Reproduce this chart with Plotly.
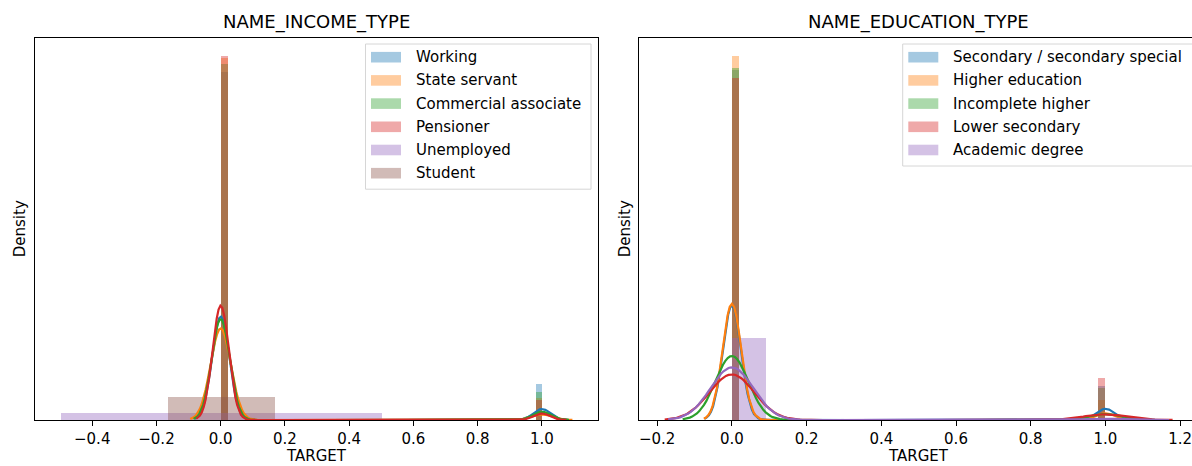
import numpy as np
import plotly.graph_objects as go

# ---------------- data (counts of TARGET = 0 / 1 per category) ----------------
income_types = ["Working", "State servant", "Commercial associate", "Pensioner", "Unemployed", "Student"]
income_n0 = [143550, 20454, 66257, 52380, 2, 12]
income_n1 = [15224, 1249, 5360, 2982, 0, 0]

education_types = ["Secondary / secondary special", "Higher education", "Incomplete higher",
                   "Lower secondary", "Academic degree"]
education_n0 = [198867, 55850, 9405, 3399, 127]
education_n1 = [19524, 3160, 872, 417, 3]

x_tick_step = 0.2

# ---------------- styling ----------------
W, H = 1192, 466
FONT = "DejaVu Sans"
COLORS = [(31, 119, 180), (255, 127, 14), (44, 160, 44), (214, 39, 40), (148, 103, 189), (140, 86, 75)]

AX_TOP, AX_BOT = 37.5, 420.0
LEFT_AX = (34.5, 598.0)
RIGHT_AX = (639.3, 1192.0)
RIGHT_TRUE_END = 1198.0


def rgba(c, a):
    return f"rgba({c[0]},{c[1]},{c[2]},{a})"


def fd_bins(a):
    if len(a) < 2:
        return 1
    iqr = np.subtract(*np.percentile(a, [75, 25]))
    h = 2 * iqr / (a.size ** (1 / 3))
    if h == 0:
        return int(np.sqrt(a.size))
    return int(np.ceil((a.max() - a.min()) / h))


def hist_of(n0, n1):
    a = np.concatenate([np.zeros(n0), np.ones(n1)])
    bins = min(fd_bins(a), 50)
    dens, edges = np.histogram(a, bins=bins, density=True)
    return a, dens, edges


def kde_of(a):
    n = a.size
    sd = a.std(ddof=1)
    if sd == 0:
        return None
    bw = sd * n ** (-1 / 5)
    grid = np.linspace(a.min() - 3 * bw, a.max() + 3 * bw, 200)
    vals, cnts = np.unique(a, return_counts=True)
    dens = np.zeros_like(grid)
    for v, c in zip(vals, cnts):
        dens += c * np.exp(-0.5 * ((grid - v) / bw) ** 2)
    dens /= n * bw * np.sqrt(2 * np.pi)
    return grid, dens


def px_x(p):
    return p / W


def px_y(p):
    return 1 - p / H


fig = go.Figure()
panels = [
    ("x", "y", income_types, income_n0, income_n1),
    ("x2", "y2", education_types, education_n0, education_n1),
]

ymaxes = []
xlims = []
for xa, ya, cats, n0s, n1s in panels:
    ymax = 0
    xmin, xmax = np.inf, -np.inf
    for i, (cat, n0, n1) in enumerate(zip(cats, n0s, n1s)):
        c = COLORS[i]
        a, dens, edges = hist_of(n0, n1)
        keep = dens > 0
        centers = (edges[:-1] + edges[1:]) / 2
        widths = np.diff(edges)
        fig.add_trace(go.Bar(x=centers[keep], y=dens[keep], width=widths[keep],
                             marker=dict(color=rgba(c, 0.4), line=dict(width=0)),
                             xaxis=xa, yaxis=ya, showlegend=False, hoverinfo="skip"))
        ymax = max(ymax, dens.max())
        xmin, xmax = min(xmin, edges[0]), max(xmax, edges[-1])
        k = kde_of(a)
        if k is not None:
            g, d = k
            fig.add_trace(go.Scatter(x=g, y=d, mode="lines", line=dict(color=rgba(c, 1), width=2.2),
                                     xaxis=xa, yaxis=ya, showlegend=False, hoverinfo="skip"))
            ymax = max(ymax, d.max())
            xmin, xmax = min(xmin, g[0]), max(xmax, g[-1])
    ymaxes.append(ymax * 1.05)
    span = xmax - xmin
    xlims.append((xmin - 0.05 * span, xmax + 0.05 * span))

# right panel is cut at the window edge
r0, r1 = xlims[1]
vis_r1 = r0 + (r1 - r0) * (RIGHT_AX[1] - RIGHT_AX[0]) / (RIGHT_TRUE_END - RIGHT_AX[0])

axis_common = dict(showgrid=False, zeroline=False, showline=True, linecolor="black", linewidth=1)
xaxis_common = dict(axis_common, ticks="outside", ticklen=5, tickwidth=1, tickcolor="black",
                    dtick=x_tick_step, tick0=0, tickformat=".1f", ticklabeloverflow="allow",
                    tickfont=dict(family=FONT, size=15, color="black"))
yaxis_common = dict(axis_common, showticklabels=False, ticks="")

fig.update_layout(
    width=W, height=H,
    margin=dict(l=0, r=0, t=0, b=0, autoexpand=False),
    paper_bgcolor="white", plot_bgcolor="white",
    barmode="overlay", bargap=0, showlegend=False,
    font=dict(family=FONT, size=15, color="black"),
    xaxis=dict(xaxis_common, domain=[px_x(LEFT_AX[0]), px_x(LEFT_AX[1])], range=list(xlims[0]),
               mirror=True, anchor="y"),
    yaxis=dict(yaxis_common, domain=[px_y(AX_BOT), px_y(AX_TOP)], range=[0, ymaxes[0]],
               mirror=True, anchor="x"),
    xaxis2=dict(xaxis_common, domain=[px_x(RIGHT_AX[0]), 1.0], range=[r0, vis_r1],
                mirror=True, anchor="y2"),
    yaxis2=dict(yaxis_common, domain=[px_y(AX_BOT), px_y(AX_TOP)], range=[0, ymaxes[1]],
                mirror=False, anchor="x2"),
)

# ---------------- titles & axis labels ----------------
ann = []
titles = ["NAME_INCOME_TYPE", "NAME_EDUCATION_TYPE"]
centers_px = [(LEFT_AX[0] + LEFT_AX[1]) / 2, (RIGHT_AX[0] + RIGHT_TRUE_END) / 2]
ylab_px = [19.5, 624.5]
for t, cx, yl in zip(titles, centers_px, ylab_px):
    ann.append(dict(text=t, x=px_x(cx), y=px_y(22), xref="paper", yref="paper",
                    xanchor="center", yanchor="middle", showarrow=False,
                    font=dict(family=FONT, size=18, color="black")))
    ann.append(dict(text="TARGET", x=px_x(cx), y=px_y(455.5), xref="paper", yref="paper",
                    xanchor="center", yanchor="middle", showarrow=False,
                    font=dict(family=FONT, size=15, color="black")))
    ann.append(dict(text="Density", x=px_x(yl), y=px_y((AX_TOP + AX_BOT) / 2), xref="paper", yref="paper",
                    xanchor="center", yanchor="middle", textangle=-90, showarrow=False,
                    font=dict(family=FONT, size=15, color="black")))

# ---------------- legends (matplotlib style) ----------------
shapes = []
legend_specs = [
    (income_types, 365.5, 591.0, 371.0, 414.0),
    (education_types, 902.7, 1205.0, 908.3, 950.5),
]
ROW0, ROWSTEP = 57.2, 23.2
for cats, bx0, bx1, patch_x, text_x in legend_specs:
    top = 44.0
    bot = ROW0 + ROWSTEP * (len(cats) - 1) + 16.0
    shapes.append(dict(type="rect", xref="paper", yref="paper",
                       x0=px_x(bx0), x1=px_x(bx1), y0=px_y(bot), y1=px_y(top),
                       line=dict(color="#d6d6d6", width=1), fillcolor="rgba(255,255,255,0.8)",
                       layer="above"))
    for i, cat in enumerate(cats):
        cy = ROW0 + ROWSTEP * i
        shapes.append(dict(type="rect", xref="paper", yref="paper",
                           x0=px_x(patch_x), x1=px_x(patch_x + 30), y0=px_y(cy + 5.3), y1=px_y(cy - 5.3),
                           line=dict(width=0), fillcolor=rgba(COLORS[i], 0.4), layer="above"))
        ann.append(dict(text=cat, x=px_x(text_x), y=px_y(cy), xref="paper", yref="paper",
                        xanchor="left", yanchor="middle", showarrow=False,
                        font=dict(family=FONT, size=15, color="black")))

fig.update_layout(annotations=ann, shapes=shapes)
fig.write_html("out.html")
